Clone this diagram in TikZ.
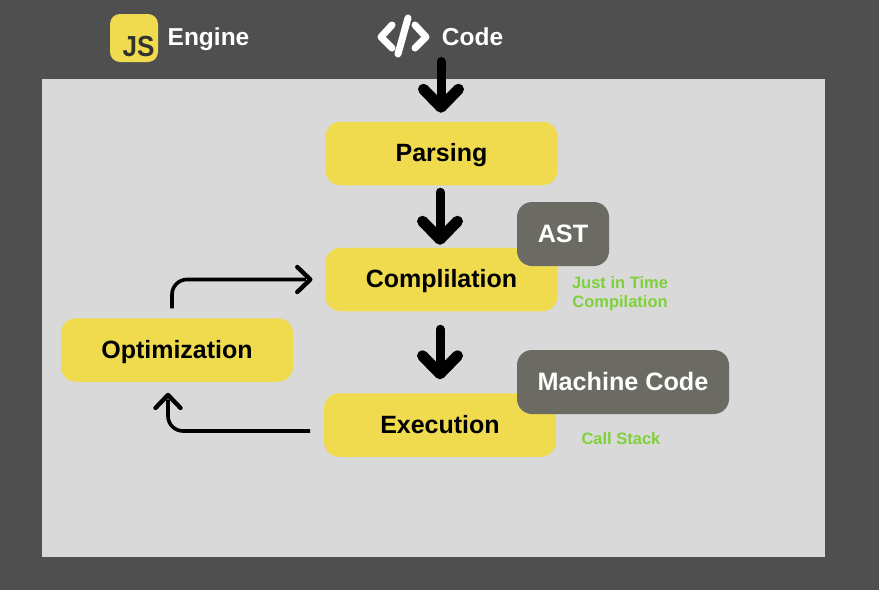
\documentclass[tikz,border=0pt]{standalone}
\usepackage{fontspec}
\setmainfont{Liberation Sans}
\usetikzlibrary{positioning, arrows.meta}
\definecolor{backdark}{HTML}{4F4F4F}
\definecolor{panelgrey}{HTML}{D9D9D9}
\definecolor{jsyellow}{HTML}{F0DB4F}
\definecolor{jsdark}{HTML}{323330}
\definecolor{tagdark}{HTML}{6C6B63}
\definecolor{notegreen}{HTML}{7ED13A}
\pgfdeclarearrow{
  name=Chevron,
  parameters={\the\pgfarrowlength,\the\pgfarrowwidth,\the\pgfarrowlinewidth},
  setup code={
    \pgfarrowssettipend{.5\pgfarrowlinewidth}
    \pgfarrowssetlineend{-\pgfarrowlinewidth}
    \pgfarrowssetbackend{-\pgfarrowlength}
    \pgfarrowssavethe\pgfarrowlength
    \pgfarrowssavethe\pgfarrowwidth
    \pgfarrowssavethe\pgfarrowlinewidth
  },
  drawing code={
    \pgfsetdash{}{+0pt}
    \pgfsetlinewidth{\pgfarrowlinewidth}
    \pgfsetroundcap
    \pgfsetroundjoin
    \pgfpathmoveto{\pgfqpoint{-\pgfarrowlength}{.5\pgfarrowwidth}}
    \pgfpathlineto{\pgfqpoint{0pt}{0pt}}
    \pgfpathlineto{\pgfqpoint{-\pgfarrowlength}{-.5\pgfarrowwidth}}
    \pgfusepathqstroke
  }
}
\tikzset{
  stagebox/.style={rectangle, fill=jsyellow, rounded corners=15pt, minimum width=232pt, minimum height=63.5pt, inner sep=0pt, outer sep=0pt, text height=19pt, text depth=3pt, font=\fontsize{25}{28}\selectfont\bfseries},
  tagbox/.style={rectangle, fill=tagdark, text=white, rounded corners=15pt, minimum height=64pt, inner sep=0pt, outer sep=0pt, text height=17pt, text depth=1pt, font=\fontsize{25.2}{28}\selectfont\bfseries},
  headtext/.style={text=white, inner sep=0pt, text height=18pt, text depth=0pt, font=\fontsize{24.5}{28}\selectfont\bfseries},
  notetext/.style={text=notegreen, inner sep=0pt, align=center, font=\fontsize{16.5}{19}\selectfont\bfseries},
  bigarrow/.style={->, line width=9pt, line cap=round, >={Chevron[length=18pt, width=35pt, line width=11pt]}},
  thinarrow/.style={->, line width=3.6pt, rounded corners=15pt, >={Chevron[length=13pt, width=25pt, line width=4.4pt]}},
  codestroke/.style={draw=white, line width=7pt, line cap=round, line join=round}
}

\begin{document}
\begin{tikzpicture}[x=1pt, y=-1pt]
  \fill[backdark] (0,0) rectangle (879,590);
  \fill[panelgrey] (42,79) rectangle (825,557);
  \useasboundingbox (0,0) rectangle (879,590);
  % header
  \node[rectangle, fill=jsyellow, rounded corners=10pt, minimum size=48pt, inner sep=0pt] (jsicon) at (134,38) {};
  \node[inner sep=0pt, text=jsdark, xscale=.9, font=\fontsize{29}{30}\selectfont\bfseries] (jstext) at (138.5,46.5) {JS};
  \node[headtext] (engine) at (208.5,36.3) {Engine};
  \node[headtext] (code) at (472.5,36.3) {Code};
  \draw[codestroke] (392,25) -- (381,37) -- (392,48);
  \draw[codestroke] (408,18) -- (398,54);
  \draw[codestroke] (415,25) -- (426,37) -- (415,48);
  % stages
  \node[stagebox] (parsing) at (441.5,153.5) {Parsing};
  \node[stagebox, below=62.5pt of parsing] (complilation) {Complilation};
  \node[stagebox, below=82pt of complilation, xshift=-1.5pt] (execution) {Execution};
  \node[stagebox] (optimization) at (177,350) {Optimization};
  % tags
  \node[tagbox, minimum width=92pt] (ast) at (563,234) {AST};
  \node[tagbox, minimum width=212pt] (machine) at (623,382) {Machine Code};
  \node[notetext] (jit) at (620,293.5) {Just in Time\\Compilation};
  \node[notetext] (stack) at (621,438.5) {Call Stack};
  % arrows
  \coordinate (codeend) at (441,61.5);
  \draw[bigarrow] (codeend) -- ([xshift=-.5pt, yshift=9pt]parsing.north);
  \draw[bigarrow] ([xshift=-1.5pt, yshift=-7pt]parsing.south) -- ([xshift=-1.5pt, yshift=3pt]complilation.north);
  \draw[bigarrow] ([xshift=-1.5pt, yshift=-18pt]complilation.south) -- ([yshift=14pt]execution.north);
  \draw[thinarrow] ([xshift=-5pt, yshift=10pt]optimization.north) |- ([xshift=-13pt]complilation.west);
  \draw[thinarrow] ([xshift=-14pt, yshift=-6pt]execution.west) -| ([xshift=-9pt, yshift=-11pt]optimization.south);
\end{tikzpicture}
\end{document}
